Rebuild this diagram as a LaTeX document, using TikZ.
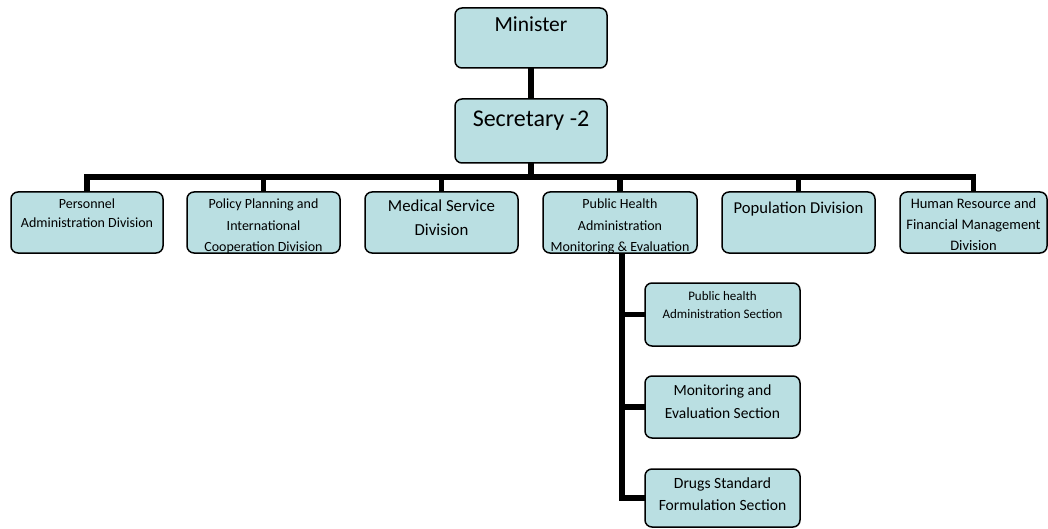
\documentclass[tikz,border=0pt]{standalone}
\usepackage{fontspec}
\setmainfont{Carlito}
\definecolor{boxfill}{RGB}{186,223,226}

\tikzset{
  orgbox/.style={draw=black, line width=1.5pt, fill=boxfill, rounded corners=7pt,
                 inner sep=0pt, outer sep=0pt, anchor=north west},
  link/.style={line width=5.5pt},
  lbl/.style={anchor=base, inner sep=0pt, outer sep=0pt},
}

% #1 box, #2 label name, #3 baseline of first line, #4 font size, #5 leading, #6 text
\newcommand\unitlabel[6]{%
  \begin{scope}
    \clip[rounded corners=7pt] (#1.south west) rectangle (#1.north east);
    \coordinate (#2-base) at (0,#3);
    \node[lbl] (#2) at (#1.center |- #2-base)
      {\parbox[t]{170pt}{\centering\fontsize{#4}{#5}\selectfont #6}};
  \end{scope}}

\begin{document}
\begin{tikzpicture}[x=1pt,y=-1pt]
\useasboundingbox (0,0) rectangle (1048,529);

% top of the hierarchy
\node[orgbox, minimum width=152pt, minimum height=60pt] (min) at (455,8) {};
\node[orgbox, minimum width=152pt, minimum height=64pt] (sec) at (455,99) {};

% divisions
\node[orgbox, minimum width=152pt, minimum height=61pt] (d1) at (11,192) {};
\node[orgbox, minimum width=153pt, minimum height=61pt] (d2) at (187,192) {};
\node[orgbox, minimum width=153pt, minimum height=61pt] (d3) at (365,192) {};
\node[orgbox, minimum width=154pt, minimum height=61pt] (d4) at (543,192) {};
\node[orgbox, minimum width=153pt, minimum height=61pt] (d5) at (722,192) {};
\node[orgbox, minimum width=147pt, minimum height=61pt] (d6) at (900,192) {};

% sections under public health
\node[orgbox, minimum width=155pt, minimum height=63pt] (s1) at (645,283) {};
\node[orgbox, minimum width=155pt, minimum height=62pt] (s2) at (645,376) {};
\node[orgbox, minimum width=155pt, minimum height=58pt] (s3) at (645,469) {};

% labels
\unitlabel{min}{tmin}{32}{21.5}{25}{Minister}
\unitlabel{sec}{tsec}{127}{24}{28}{Secretary -2}
\unitlabel{d1}{td1}{208}{14}{20}{Personnel\\Administration Division}
\unitlabel{d2}{td2}{209}{14}{21.5}{Policy Planning and\\International\\Cooperation Division}
\unitlabel{d3}{td3}{212}{16.8}{23}{Medical Service\\Division}
\unitlabel{d4}{td4}{209}{14}{21.5}{Public Health\\Administration\\Monitoring \& Evaluation}
\unitlabel{d5}{td5}{214}{16.6}{22}{Population Division}
\unitlabel{d6}{td6}{208}{14.5}{21}{Human Resource and\\Financial Management\\Division}
\unitlabel{s1}{ts1}{300}{13}{18}{Public health\\Administration Section}
\unitlabel{s2}{ts2}{395}{15.5}{23}{Monitoring and\\Evaluation Section}
\unitlabel{s3}{ts3}{488}{15.6}{22}{Drugs Standard\\Formulation Section}

% connectors
\coordinate (bus) at (531,177);
\draw[link] (min.south) -- (sec.north);
\draw[link] (sec.south) -- (sec.south |- bus);
\draw[link] (d1.north) -- (d1.north |- bus) -- (d6.north |- bus) -- (d6.north);
\foreach \d in {d2,d3,d4,d5}
  \draw[link] (\d.north) -- (\d.north |- bus);

\draw[link] ([xshift=2pt]d4.south) -- ([xshift=2pt]d4.south |- s3.west) -- (s3.west);
\draw[link] ([xshift=2pt]d4.south |- s1.west) -- (s1.west);
\draw[link] ([xshift=2pt]d4.south |- s2.west) -- (s2.west);
\end{tikzpicture}
\end{document}
